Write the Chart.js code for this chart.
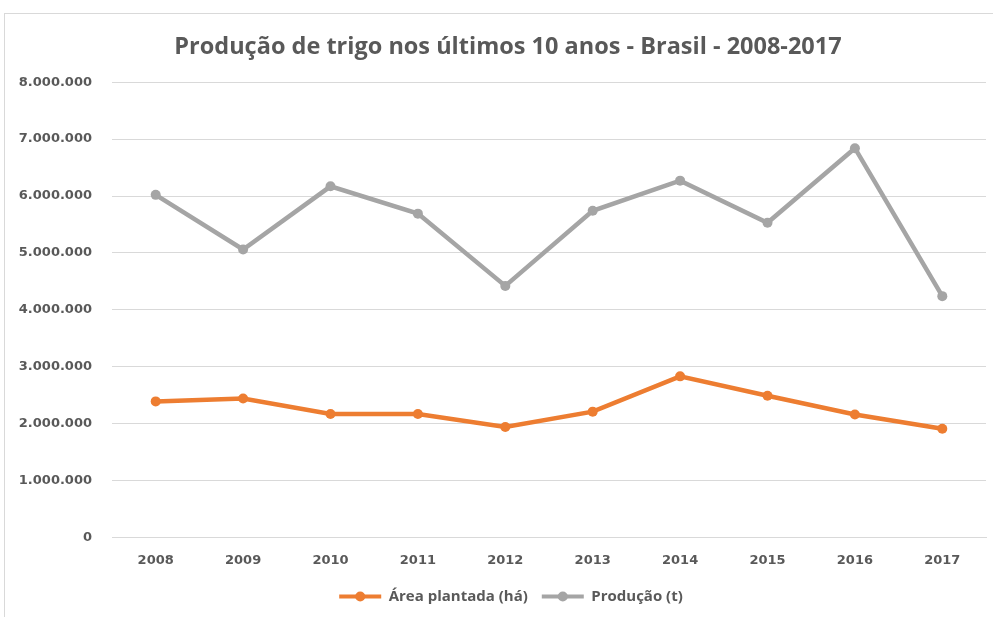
<!DOCTYPE html>
<html>
<head>
<meta charset="utf-8">
<script src="https://cdn.jsdelivr.net/npm/chart.js@4.4.1/dist/chart.umd.min.js"></script>
<style>
  html, body { margin: 0; padding: 0; background: #fff; }
  #wrap { position: absolute; left: 0; top: 0; width: 993px; height: 617px; }
  #frame { position: absolute; left: 4px; top: 13px; width: 995px; height: 620px; border: 1px solid #d9d9d9; box-sizing: border-box; }
  canvas { position: absolute; left: 0; top: 0; }
</style>
</head>
<body>
<div id="wrap">
  <div id="frame"></div>
  <canvas id="c" width="993" height="617"></canvas>
</div>
<script>
const categories = ['2008','2009','2010','2011','2012','2013','2014','2015','2016','2017'];
const areaPlantada = [2390000, 2440000, 2170000, 2170000, 1940000, 2210000, 2830000, 2490000, 2160000, 1910000];
const producao = [6020000, 5060000, 6170000, 5690000, 4420000, 5740000, 6270000, 5530000, 6840000, 4240000];
const yTicks = [0, 1000000, 2000000, 3000000, 4000000, 5000000, 6000000, 7000000, 8000000];

function fmt(v) {
  return String(Math.round(v)).replace(/\B(?=(\d{3})+(?!\d))/g, '.');
}

new Chart(document.getElementById('c'), {
  type: 'line',
  data: {
    labels: categories,
    datasets: [
      {
        label: 'Área plantada (há)',
        data: areaPlantada,
        borderColor: '#ED7D31',
        backgroundColor: '#ED7D31',
        borderWidth: 4.5,
        pointRadius: 5,
        pointHoverRadius: 5,
        pointBorderWidth: 0,
        tension: 0
      },
      {
        label: 'Produção (t)',
        data: producao,
        borderColor: '#A5A5A5',
        backgroundColor: '#A5A5A5',
        borderWidth: 4.5,
        pointRadius: 5,
        pointHoverRadius: 5,
        pointBorderWidth: 0,
        tension: 0
      }
    ]
  },
  options: {
    responsive: false,
    animation: false,
    devicePixelRatio: 1,
    layout: { padding: { left: 10, right: 7, top: 0, bottom: 3 } },
    plugins: {
      title: {
        display: true,
        text: 'Produção de trigo nos últimos 10 anos - Brasil - 2008-2017',
        color: '#595959',
        font: { family: 'Open Sans', size: 23.5, weight: 'bold' },
        padding: { top: 33, bottom: 21 }
      },
      legend: {
        position: 'bottom',
        labels: {
          color: '#595959',
          font: { family: 'Open Sans', size: 15, weight: 'bold' },
          usePointStyle: false,
          boxWidth: 42,
          boxHeight: 4,
          padding: 14,
          generateLabels(chart) {
            return chart.data.datasets.map((ds, i) => ({
              text: ds.label,
              fillStyle: ds.borderColor,
              strokeStyle: ds.borderColor,
              lineWidth: 0,
              fontColor: '#595959',
              datasetIndex: i,
              hidden: false
            }));
          }
        }
      },
      tooltip: { enabled: false }
    },
    scales: {
      x: {
        offset: true,
        grid: { display: false },
        border: { display: true, color: '#d9d9d9', width: 1 },
        ticks: {
          color: '#595959',
          font: { family: 'DejaVu Sans', size: 13, weight: 'bold' },
          padding: 7
        }
      },
      y: {
        min: 0,
        max: 8000000,
        afterBuildTicks(scale) { scale.ticks = yTicks.map(v => ({ value: v })); },
        afterFit(scale) { scale.width = 102; },
        grid: { color: '#d9d9d9', lineWidth: 1, drawTicks: false },
        border: { display: false },
        ticks: {
          color: '#595959',
          font: { family: 'DejaVu Sans', size: 13, weight: 'bold' },
          padding: 20,
          callback: v => fmt(v)
        }
      }
    }
  },
  plugins: [{
    id: 'shiftBlocks',
    afterLayout(chart) {
      const t = chart.titleBlock;
      if (t) { t.left += 10; t.right += 10; }
      const l = chart.legend;
      if (l) { l.left += 13; l.right += 13; }
    }
  }, {
    id: 'legendMarkers',
    afterDraw(chart) {
      const lg = chart.legend;
      if (!lg || !lg.legendHitBoxes) return;
      const ctx = chart.ctx;
      lg.legendHitBoxes.forEach((box, i) => {
        const ds = chart.data.datasets[i];
        const cx = box.left + lg.options.labels.boxWidth / 2;
        const cy = box.top + box.height / 2;
        ctx.save();
        ctx.fillStyle = ds.borderColor;
        ctx.beginPath();
        ctx.arc(cx, cy, 5, 0, Math.PI * 2);
        ctx.fill();
        ctx.restore();
      });
    }
  }]
});
</script>
</body>
</html>
